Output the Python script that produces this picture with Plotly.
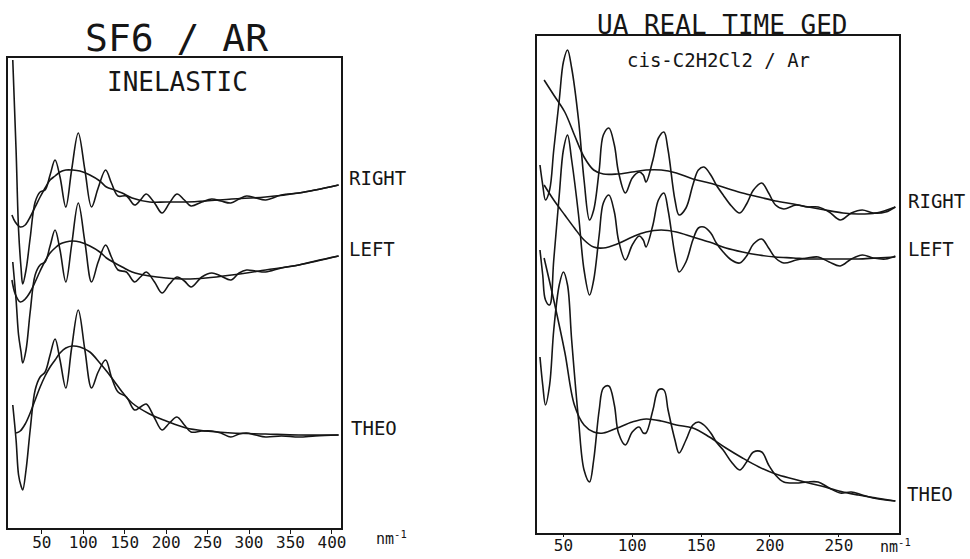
import plotly.graph_objects as go

# ---------------- Left panel: SF6 / Ar (s in nm^-1, intensity arbitrary units)
s_left = [15, 19, 22, 25, 27, 31, 36, 42, 48, 54, 60, 66, 72, 79, 86, 94, 102, 110, 118, 127,
          134, 142, 152, 162, 169, 176, 186, 195, 204, 213, 222, 230, 243, 255, 266, 278, 288, 297,
          308, 320, 339, 360, 380, 408]
sf6_right = [468, 378, 298, 260, 244, 258, 290, 326, 336, 338, 353, 368, 351, 321, 358, 395, 358, 321, 340, 358,
             345, 332, 332, 323, 328, 334, 325, 315, 325, 334, 328, 322, 326, 329, 327, 325, 329, 332,
             330, 328, 333, 335, 338, 343]
sf6_left = [266, 228, 193, 176, 165, 178, 216, 253, 263, 266, 282, 298, 278, 246, 283, 325, 286, 246, 266, 283,
            271, 258, 256, 246, 251, 256, 246, 235, 244, 251, 247, 241, 251, 255, 252, 248, 255, 258,
            257, 256, 260, 263, 267, 272]
sf6_theo = [123, 88, 53, 42, 38, 58, 98, 138, 151, 156, 173, 189, 168, 140, 180, 218, 178, 140, 156, 168,
            151, 136, 131, 118, 121, 124, 110, 98, 105, 111, 103, 96, 97, 97, 95, 91, 94, 95,
            93, 91, 92, 91, 92, 93]

s_left_bg = [14, 18, 24, 30, 36, 42, 48, 54, 60, 66, 72, 79, 87, 96, 108, 120, 128, 138, 147, 159,
             180, 200, 224, 248, 279, 320, 360, 408]
sf6_right_bg = [313, 306, 301, 303, 311, 321, 331, 340, 348, 352, 356, 358, 358, 357, 353, 347, 341, 338, 335, 330,
                326, 326, 326, 327, 329, 331, 335, 343]
sf6_left_bg = [248, 234, 226, 229, 236, 246, 257, 267, 275, 280, 284, 286, 287, 286, 282, 276, 270, 265, 261, 256,
               252, 250, 249, 250, 253, 258, 263, 272]
s_left_theo_bg = [19, 24, 30, 36, 42, 48, 54, 60, 66, 72, 79, 87, 96, 108, 120, 128, 138, 147, 159,
                  180, 200, 224, 248, 279, 320, 360, 408]
sf6_theo_bg = [95, 97, 104, 115, 128, 141, 152, 161, 168, 175, 180, 182, 181, 176, 165, 157, 146, 136, 125,
               114, 107, 100, 97, 95, 94, 93, 93]
left_ticks = [50, 100, 150, 200, 250, 300, 350, 400]

# ---------------- Right panel: cis-C2H2Cl2 / Ar
s_right = [33, 35, 37, 40, 43, 47, 50, 53, 56, 61, 65, 69, 72, 76, 79, 83, 87, 90, 95, 100,
           105, 108, 110, 115, 119, 123, 126, 131, 134, 139, 144, 148, 152, 157, 161, 166, 172, 178, 183, 188,
           194, 199, 204, 210, 219, 227, 235, 243, 251, 259, 267, 275, 284, 291]
c2_right = [368, 348, 333, 343, 383, 433, 471, 483, 465, 413, 353, 313, 323, 363, 398, 405, 388, 361, 340, 355,
            361, 358, 351, 373, 395, 401, 383, 333, 318, 325, 348, 363, 366, 358, 348, 338, 327, 320, 329, 343,
            350, 340, 328, 324, 328, 326, 326, 321, 313, 320, 323, 320, 321, 326]
c2_left = [283, 258, 233, 228, 273, 338, 383, 398, 373, 318, 263, 238, 253, 298, 330, 338, 321, 293, 273, 288,
           297, 293, 286, 308, 333, 340, 323, 278, 261, 271, 293, 305, 306, 300, 290, 281, 273, 270, 277, 289,
           294, 285, 275, 270, 273, 275, 276, 271, 267, 274, 278, 275, 274, 277]
c2_theo = [176, 148, 128, 148, 203, 248, 261, 248, 193, 113, 63, 51, 73, 123, 145, 147, 128, 100, 88, 101,
           106, 100, 100, 123, 143, 143, 123, 93, 80, 93, 108, 111, 108, 100, 91, 83, 71, 63, 71, 81,
           81, 68, 58, 51, 50, 51, 51, 45, 40, 41, 38, 35, 33, 32]

s_right_bg = [36, 43, 51, 58, 65, 72, 79, 89, 100, 110, 121, 132, 144, 156, 168, 180, 192, 204, 217, 228,
              240, 253, 264, 277, 291]
c2_right_bg = [453, 438, 421, 398, 376, 363, 359, 359, 361, 363, 363, 360, 354, 350, 345, 340, 336, 332, 329, 326,
               323, 320, 319, 320, 326]
c2_left_bg = [348, 333, 318, 305, 293, 286, 285, 289, 296, 301, 303, 301, 296, 291, 285, 281, 278, 276, 275, 274,
              274, 274, 274, 275, 276]
c2_theo_bg = [275, 233, 181, 128, 108, 101, 100, 105, 111, 114, 112, 108, 105, 96, 85, 75, 66, 59, 54, 50,
              46, 41, 38, 35, 32]
right_ticks = [50, 100, 150, 200, 250]

INK = "#161616"
FONT = "DejaVu Sans Mono"
W, H = 970, 559

fig = go.Figure()


def curve(x, y, xa, ya):
    fig.add_trace(go.Scatter(x=x, y=y, mode="lines", xaxis=xa, yaxis=ya,
                             line=dict(color=INK, width=1.6, shape="spline", smoothing=1.0),
                             hoverinfo="skip", showlegend=False))


for yv in (sf6_right, sf6_left, sf6_theo):
    curve(s_left, yv, "x", "y")
curve(s_left_bg, sf6_right_bg, "x", "y")
curve(s_left_bg, sf6_left_bg, "x", "y")
curve(s_left_theo_bg, sf6_theo_bg, "x", "y")

for yv in (c2_right, c2_left, c2_theo):
    curve(s_right, yv, "x2", "y2")
curve(s_right_bg, c2_right_bg, "x2", "y2")
curve(s_right_bg, c2_left_bg, "x2", "y2")
curve(s_right_bg, c2_theo_bg, "x2", "y2")


def px(x):
    return x / W


def py(y):
    return 1 - y / H


axis_common = dict(showline=True, mirror=True, linecolor=INK, linewidth=1.6,
                   showgrid=False, zeroline=False)

fig.update_layout(
    width=W, height=H,
    margin=dict(l=0, r=0, t=0, b=0),
    paper_bgcolor="white", plot_bgcolor="white",
    font=dict(family=FONT, color=INK),
    xaxis=dict(domain=[px(8), px(343)], range=[9.2, 411.2], tickvals=left_ticks,
               ticktext=[str(v) for v in left_ticks], ticks="outside", ticklen=4,
               tickcolor=INK, tickfont=dict(size=16, family=FONT, color=INK),
               ticklabelstandoff=-5, anchor="y", **axis_common),
    yaxis=dict(domain=[py(528), py(58)], range=[0, 470], showticklabels=False,
               ticks="", anchor="x", **axis_common),
    xaxis2=dict(domain=[px(540), px(904)], range=[31.0, 293.9], tickvals=right_ticks,
                ticktext=[str(v) for v in right_ticks], ticks="outside", ticklen=2,
                tickcolor=INK, tickfont=dict(size=16, family=FONT, color=INK),
                ticklabelstandoff=-5, anchor="y2", **axis_common),
    yaxis2=dict(domain=[py(533), py(36)], range=[0, 497], showticklabels=False,
                ticks="", anchor="x2", **axis_common),
)


def label(text, x, y, size, xanchor="center"):
    fig.add_annotation(text=text, x=px(x), y=py(y), xref="paper", yref="paper",
                       xanchor=xanchor, yanchor="middle", showarrow=False,
                       font=dict(size=size, family=FONT, color=INK))


label("SF6 / AR", 177, 38, 38)
label("INELASTIC", 178, 82, 26)
label("UA REAL TIME GED", 726, 25, 26)
label("cis-C2H2Cl2 / Ar", 722, 60, 19)

label("RIGHT", 349, 178, 19, "left")
label("LEFT", 349, 249, 19, "left")
label("THEO", 351, 428, 19, "left")
label("RIGHT", 911, 201, 19, "left")
label("LEFT", 911, 249, 19, "left")
label("THEO", 910, 494, 19, "left")

label("nm<sup>-1</sup>", 376, 538, 15, "left")
label("nm<sup>-1</sup>", 883, 546, 15, "left")

fig.write_html("out.html")
